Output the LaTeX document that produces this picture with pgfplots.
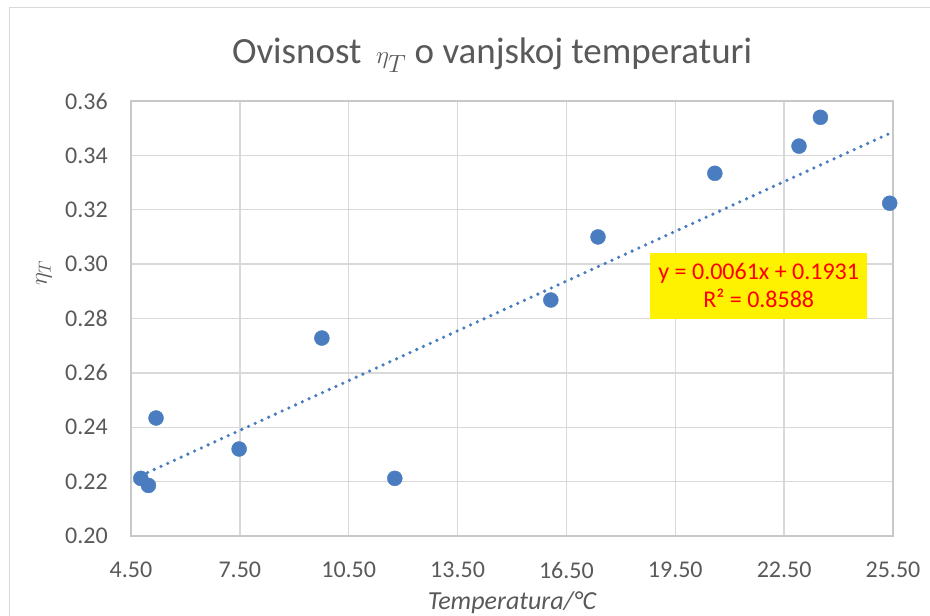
\documentclass[border=0pt]{standalone}
\usepackage{pgfplots}
\pgfplotsset{compat=1.18}
\usepackage{fontspec}
\setmainfont{Carlito}
\definecolor{txtgray}{HTML}{595959}
\definecolor{gridgray}{HTML}{D9D9D9}
\definecolor{axgray}{HTML}{C8C8C8}
\definecolor{ptblue}{HTML}{4A7DBF}
\begin{document}
\begin{tikzpicture}
\path[use as bounding box] (-131pt,-80pt) rectangle (799pt,536pt);
\draw[gridgray, line width=1.5pt] (-121.5pt,-80pt) -- (-121.5pt,528.5pt) -- (805pt,528.5pt);
\begin{axis}[
  scale only axis,
  width=762pt, height=435pt,
  xmin=4.5, xmax=25.5, ymin=0.20, ymax=0.36,
  xtick={4.5,7.5,...,25.5},
  ytick={0.20,0.22,...,0.361},
  /pgf/number format/assume math mode=true,
  xticklabel={\pgfmathprintnumber[fixed,fixed zerofill,precision=2]{\tick}},
  yticklabel={\pgfmathprintnumber[fixed,fixed zerofill,precision=2]{\tick}},
  tick style={draw=none},
  major tick length=0pt,
  grid=major,
  grid style={gridgray, line width=1.3pt},
  axis line style={axgray, line width=1.3pt},
  ticklabel style={font=\fontsize{24}{28}\selectfont, text=txtgray, inner sep=0pt},
  yticklabel style={anchor=east, xshift=-23pt},
  xticklabel style={anchor=north, yshift=-26pt},
  title={Ovisnost \,$\eta_T$ o vanjskoj temperaturi},
  title style={at={(axis description cs:0.4738,1)}, anchor=center, yshift=40pt, font=\fontsize{37}{42}\selectfont, text=txtgray, inner sep=0pt},
  xlabel={\itshape Temperatura/°C},
  xlabel style={at={(axis description cs:0.5,0)}, anchor=center, yshift=-67pt, font=\fontsize{26}{29}\selectfont, text=txtgray, inner sep=0pt},
  ylabel={$\eta_T$},
  ylabel style={at={(axis description cs:-0.1142,0.605)}, anchor=center, font=\fontsize{25}{28}\selectfont, text=txtgray, inner sep=0pt},
  clip=false,
]
\addplot[only marks, mark=*, mark size=7.5pt, mark options={fill=ptblue, draw=ptblue}] coordinates {
 (4.77,0.2212) (4.98,0.2186) (5.19,0.2434) (7.48,0.2320) (9.76,0.2728)
 (11.77,0.2212) (16.07,0.2868) (17.37,0.3100) (20.59,0.3334) (22.91,0.3434)
 (23.50,0.3540) (25.41,0.3224)
};
\addplot[ptblue, line width=3.6pt, line cap=round, dash pattern=on 0pt off 7.4pt] coordinates {
 (4.77,0.22220) (25.41,0.34810)
};
\node[fill=yellow, text=red, minimum width=217pt, minimum height=66pt, align=center, inner sep=0pt,
  font=\fontsize{24}{28}\selectfont] at (axis cs:21.80,0.2920)
  {y = 0.0061x + 0.1931\\R² = 0.8588};
\end{axis}
\end{tikzpicture}
\end{document}
